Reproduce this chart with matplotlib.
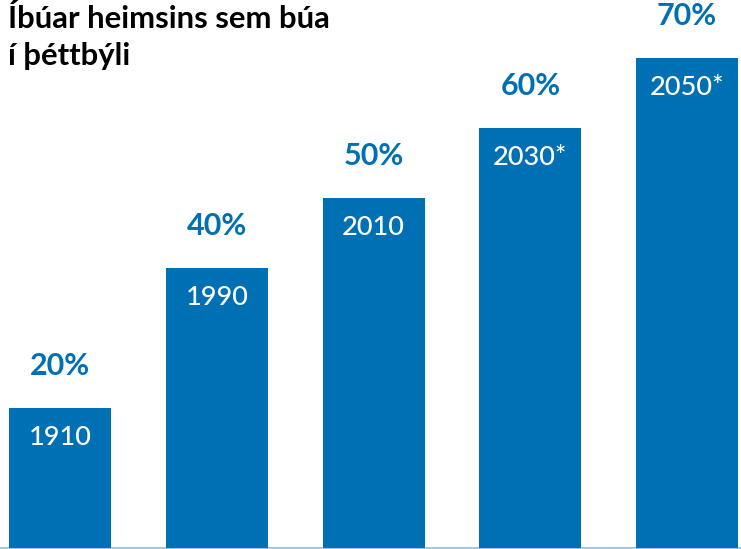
import matplotlib
matplotlib.use("Agg")
import matplotlib.pyplot as plt

years = ["1910", "1990", "2010", "2030*", "2050*"]
shares = [20, 40, 50, 60, 70]
pct_labels = ["20%", "40%", "50%", "60%", "70%"]
title = "Íbúar heimsins sem búa\ní þéttbýli"

blue = "#0070b5"
plt.rcParams['font.family'] = ['Lato', 'DejaVu Sans']

fig = plt.figure(figsize=(7.41, 5.49), dpi=100)
ax = fig.add_axes([0, 0, 1, 1])
x = list(range(len(years)))
bars = ax.bar(x, shares, width=0.65, color=blue, zorder=2)
ax.set_xlim(-0.383, 4.344)
ax.set_ylim(-0.15, 78.3)
ax.axhline(0, color="#8fbde0", lw=1.2, zorder=1)
ax.axis("off")

for xi, v, yl, pl in zip(x, shares, years, pct_labels):
    ax.annotate(pl, (xi, v), xytext=(0, 30), textcoords="offset points",
                ha="center", va="center", color=blue, fontsize=22, fontweight="bold")
    ax.annotate(yl, (xi, v), xytext=(0, -21), textcoords="offset points",
                ha="center", va="center", color="white", fontsize=19.5, fontweight="medium")

fig.text(8/741, 1 - 4/549, title, ha="left", va="top", fontsize=22.3,
         fontweight="bold", color="black", linespacing=1.4)

fig.savefig("out.png", dpi=100)
